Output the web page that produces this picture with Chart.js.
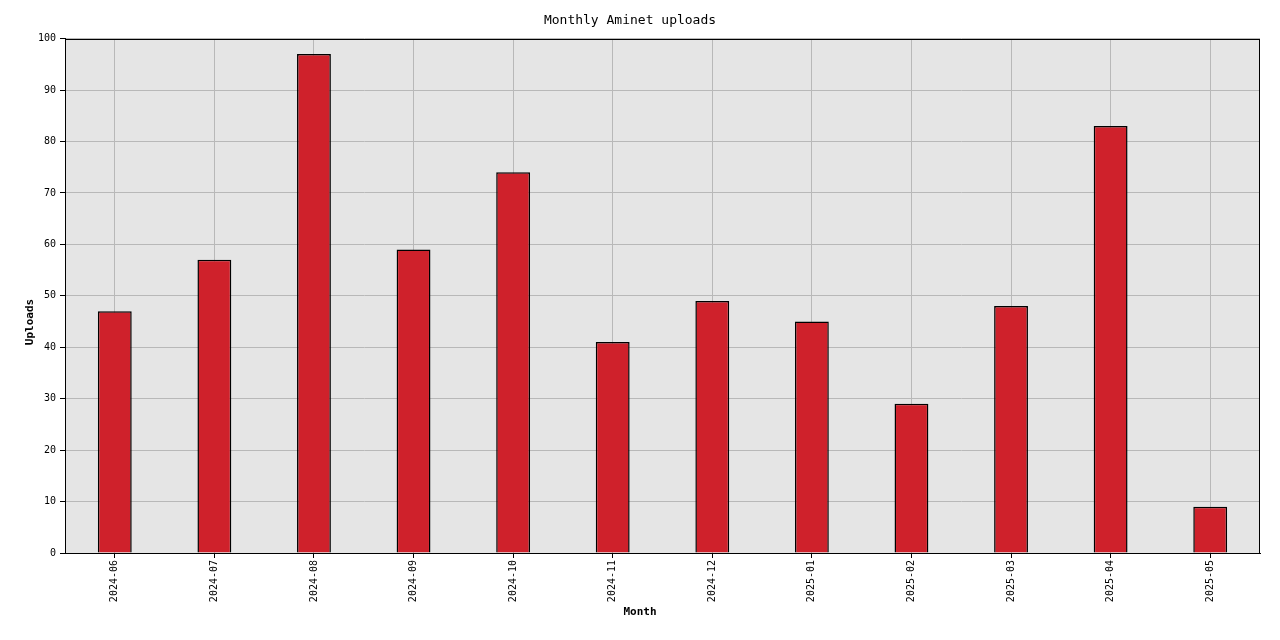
<!DOCTYPE html>
<html>
<head>
<meta charset="utf-8">
<title>Monthly Aminet uploads</title>
<script src="https://cdn.jsdelivr.net/npm/chart.js@4/dist/chart.umd.min.js"></script>
<style>
  html, body { margin: 0; padding: 0; background: #fff; }
</style>
</head>
<body>
<canvas id="myChart" width="1280" height="640"></canvas>
<script>
// data
var months = ['2024-06', '2024-07', '2024-08', '2024-09', '2024-10', '2024-11',
              '2024-12', '2025-01', '2025-02', '2025-03', '2025-04', '2025-05'];
var uploads = [47, 57, 97, 59, 74, 41, 49, 45, 29, 48, 83, 9];
var yTicks = [0, 10, 20, 30, 40, 50, 60, 70, 80, 90, 100];
var xTitle = 'Month';
var yTitle = 'Uploads';

var mono = "'DejaVu Sans Mono', 'Liberation Mono', monospace";

// gray plot background, black frame and the axis titles (gnuplot puts them
// in the middle of the whole image, not of the plot area)
var plotFrame = {
  id: 'plotFrame',
  beforeDraw: function(chart) {
    var a = chart.chartArea, c = chart.ctx;
    c.save();
    c.fillStyle = '#e5e5e5';
    c.fillRect(a.left, a.top, a.right - a.left, a.bottom - a.top);
    c.restore();
  },
  afterDatasetsDraw: function(chart) {
    var a = chart.chartArea, c = chart.ctx;
    c.save();
    c.strokeStyle = '#000';
    c.lineWidth = 1;
    c.strokeRect(Math.round(a.left) + 0.5, Math.round(a.top) + 0.5,
                 Math.round(a.right - a.left) - 1, Math.round(a.bottom - a.top));
    c.restore();
  },
  afterDraw: function(chart) {
    var c = chart.ctx;
    c.save();
    c.fillStyle = '#000';
    c.font = 'bold 11px ' + mono;
    c.textAlign = 'center';
    c.textBaseline = 'middle';
    c.fillText(xTitle, chart.width / 2, 612);
    c.translate(30, 322);
    c.rotate(-Math.PI / 2);
    c.fillText(yTitle, 0, 0);
    c.restore();
  }
};

var ctx = document.getElementById('myChart');
var myChart = new Chart(ctx, {
  type: 'bar',
  data: {
    labels: months,
    datasets: [{
      label: 'Uploads',
      data: uploads,
      backgroundColor: '#cf212b',
      borderColor: '#000',
      borderWidth: 1.5,
      borderSkipped: 'bottom',
      barPercentage: 0.34,
      categoryPercentage: 1.0
    }]
  },
  options: {
    responsive: false,
    animation: false,
    layout: { padding: { top: 0, right: 20, bottom: 0, left: 0 } },
    plugins: {
      legend: { display: false },
      tooltip: { enabled: false },
      title: {
        display: true,
        text: 'Monthly Aminet uploads',
        color: '#000',
        font: { family: mono, size: 13, weight: 'normal' },
        padding: { top: 13, bottom: 10 }
      }
    },
    scales: {
      x: {
        grid: {
          offset: false,
          color: '#b8b8b8',
          tickColor: '#000',
          tickLength: 5,
          lineWidth: 1
        },
        border: { display: true, color: '#000', width: 1 },
        ticks: {
          color: '#000',
          font: { family: mono, size: 10 },
          minRotation: 90,
          maxRotation: 90,
          padding: 2,
          autoSkip: false
        },
        afterFit: function(scale) { scale.height = 87; }
      },
      y: {
        min: 0,
        max: 100,
        grid: {
          color: '#b8b8b8',
          tickColor: '#000',
          tickLength: 5,
          lineWidth: 1
        },
        border: { display: true, color: '#000', width: 1 },
        afterBuildTicks: function(scale) {
          scale.ticks = yTicks.map(function(v) { return { value: v }; });
        },
        ticks: {
          color: '#000',
          font: { family: mono, size: 10 },
          padding: 4
        },
        afterFit: function(scale) { scale.width = 65; }
      }
    }
  },
  plugins: [plotFrame]
});
</script>
</body>
</html>
